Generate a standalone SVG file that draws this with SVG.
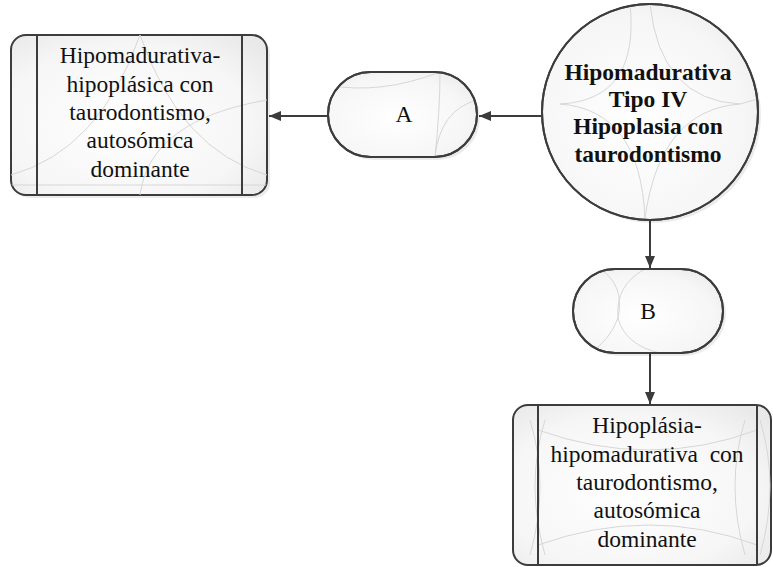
<svg xmlns="http://www.w3.org/2000/svg" width="773" height="567" viewBox="0 0 773 567">
  <style>
    .shape { fill: url(#soft); stroke: #3c3c3c; stroke-width: 2; }
    .bar { stroke: #3c3c3c; stroke-width: 2; fill: none; }
    .shadow { fill: #000; opacity: 0.08; }
    .deco { fill: none; stroke: #d6d6d6; stroke-width: 1; }
    .lbl { font-family: "Liberation Serif", "Times New Roman", serif; font-size: 23.5px; fill: #111; text-anchor: middle; }
    .bold { font-weight: bold; }
    .edge { stroke: #3c3c3c; stroke-width: 2; fill: none; marker-end: url(#arrow); }
  </style>
  <defs>
    <radialGradient id="soft" cx="0.45" cy="0.55" r="0.7">
      <stop offset="0" stop-color="#ffffff"/>
      <stop offset="0.7" stop-color="#f6f6f6"/>
      <stop offset="1" stop-color="#e9e9e9"/>
    </radialGradient>
    <marker id="arrow" viewBox="0 0 12 10" refX="12" refY="5" markerWidth="12" markerHeight="10" markerUnits="userSpaceOnUse" orient="auto">
      <path d="M0,0 L12,5 L0,10 z" fill="#3c3c3c"/>
    </marker>
    <clipPath id="clipLeft"><rect x="11" y="35" width="256" height="160" rx="15"/></clipPath>
    <clipPath id="clipA"><rect x="328" y="72" width="149" height="85" rx="42.5"/></clipPath>
    <clipPath id="clipC"><circle cx="650" cy="112" r="108"/></clipPath>
    <clipPath id="clipB"><rect x="573" y="269" width="150" height="84" rx="42"/></clipPath>
    <clipPath id="clipBottom"><rect x="513" y="405" width="258" height="160" rx="15"/></clipPath>
  </defs>

  <!-- connectors -->
  <g id="connectors">
    <line class="edge" x1="541" y1="116" x2="479" y2="116"/>
    <line class="edge" x1="328" y1="116" x2="269" y2="116"/>
    <line class="edge" x1="650" y1="220" x2="650" y2="268"/>
    <line class="edge" x1="650" y1="353" x2="650" y2="404"/>
  </g>

  <!-- left result box -->
  <g id="node-left">
    <rect class="shadow" x="14" y="38" width="256" height="160" rx="15"/>
    <rect class="shape" x="11" y="35" width="256" height="160" rx="15"/>
    <g clip-path="url(#clipLeft)">
      <path class="deco" d="M11,175 Q100,150 140,35 M267,175 Q180,150 140,35 M140,195 Q150,120 267,100 M11,185 L267,185"/>
    </g>
    <line class="bar" x1="37" y1="35" x2="37" y2="195"/>
    <line class="bar" x1="242" y1="35" x2="242" y2="195"/>
    <text class="lbl" x="140" y="63">Hipomadurativa-</text>
    <text class="lbl" x="140" y="92">hipoplásica con</text>
    <text class="lbl" x="140" y="120">taurodontismo,</text>
    <text class="lbl" x="140" y="148">autosómica</text>
    <text class="lbl" x="140" y="177">dominante</text>
  </g>

  <!-- connector node A -->
  <g id="node-a">
    <rect class="shadow" x="331" y="75" width="149" height="85" rx="42.5"/>
    <rect class="shape" x="328" y="72" width="149" height="85" rx="42.5"/>
    <g clip-path="url(#clipA)">
      <path class="deco" d="M328,85 Q380,95 440,72 M440,72 Q440,110 435,157 M477,100 Q440,110 435,157"/>
    </g>
    <rect x="328" y="72" width="149" height="85" rx="42.5" fill="none" stroke="#3c3c3c" stroke-width="2"/>
    <text class="lbl" x="404" y="122">A</text>
  </g>

  <!-- main circle -->
  <g id="node-main">
    <circle class="shadow" cx="653" cy="115" r="108"/>
    <circle class="shape" cx="650" cy="112" r="108"/>
    <g clip-path="url(#clipC)">
      <path class="deco" d="M630,4 Q640,100 560,104 M650,4 Q660,100 740,104 M560,104 Q640,110 645,218 M740,104 Q660,110 645,218 M740,104 Q755,100 770,95"/>
    </g>
    <circle cx="650" cy="112" r="108" fill="none" stroke="#3c3c3c" stroke-width="2"/>
    <text class="lbl bold" x="648" y="80">Hipomadurativa</text>
    <text class="lbl bold" x="648" y="107">Tipo IV</text>
    <text class="lbl bold" x="648" y="134">Hipoplasia con</text>
    <text class="lbl bold" x="648" y="162">taurodontismo</text>
  </g>

  <!-- connector node B -->
  <g id="node-b">
    <rect class="shadow" x="576" y="272" width="150" height="84" rx="42"/>
    <rect class="shape" x="573" y="269" width="150" height="84" rx="42"/>
    <g clip-path="url(#clipB)">
      <path class="deco" d="M600,269 Q625,285 618,318 Q610,340 590,353 M645,269 Q615,285 618,318 Q625,345 660,353"/>
    </g>
    <rect x="573" y="269" width="150" height="84" rx="42" fill="none" stroke="#3c3c3c" stroke-width="2"/>
    <text class="lbl" x="648" y="319">B</text>
  </g>

  <!-- bottom result box -->
  <g id="node-bottom">
    <rect class="shape" x="513" y="405" width="258" height="160" rx="15"/>
    <g clip-path="url(#clipBottom)">
      <path class="deco" d="M530,420 Q550,485 530,555 M545,420 Q525,485 545,555 M745,420 Q725,485 745,555 M760,420 Q780,485 760,555 M538,430 Q650,470 757,430 M538,545 Q650,505 757,545"/>
    </g>
    <line class="bar" x1="538" y1="405" x2="538" y2="565"/>
    <line class="bar" x1="757" y1="405" x2="757" y2="565"/>
    <text class="lbl" x="647" y="433">Hipoplásia-</text>
    <text class="lbl" x="647" y="462" xml:space="preserve">hipomadurativa  con</text>
    <text class="lbl" x="647" y="490">taurodontismo,</text>
    <text class="lbl" x="647" y="518">autosómica</text>
    <text class="lbl" x="647" y="547">dominante</text>
  </g>
</svg>
